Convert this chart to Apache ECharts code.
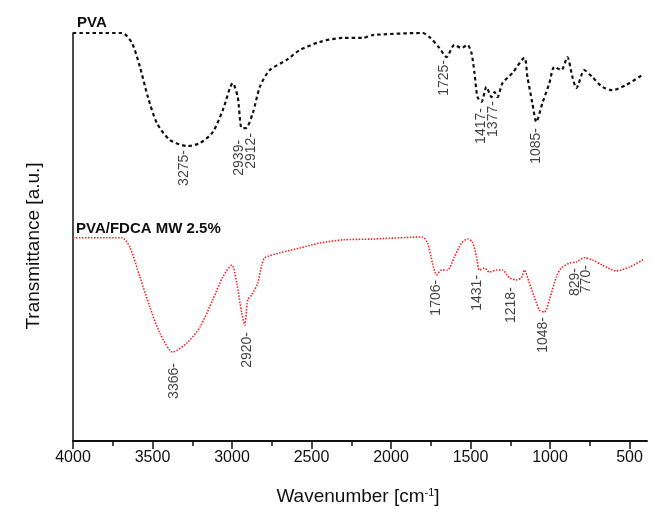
<!DOCTYPE html>
<html>
<head>
<meta charset="utf-8">
<script src="https://cdn.jsdelivr.net/npm/echarts@6/dist/echarts.min.js"></script>
<style>
html,body{margin:0;padding:0;background:#fff;}
#chart{width:654px;height:509px;}
</style>
</head>
<body>
<div id="chart"></div>
<script>
// PVA spectrum (wavenumber cm-1, transmittance a.u.)
const pvaWn = [4000,3692,3629,3579,3529,3472,3391,3278,3202,3121,3058,2995,2964,2939,2913,2869,2825,2763,2656,2574,2449,2304,2178,2115,1802,1758,1695,1651,1601,1557,1519,1494,1475,1456,1431,1400,1368,1349,1330,1299,1236,1161,1142,1111,1086,1048,1004,973,929,891,859,834,784,734,671,608,520,420];
const pvaT = [100,100,97.5,91.7,84.3,77.9,73.8,72.3,73.0,75.7,81.1,87.7,84.3,76.7,76.7,80.4,86.8,90.9,93.4,95.8,97.8,98.8,98.8,99.5,100,99.0,96.3,94.1,97.1,96.3,97.1,95.1,90.2,84.3,83.1,86.8,84.3,85.5,84.3,87.7,90.2,93.9,89.2,82.8,78.2,82.8,87.7,91.7,90.9,94.1,89.2,86.5,90.9,89.2,86.8,86.0,87.3,89.7];

// PVA/FDCA MW 2.5% spectrum
const fdcaWn = [4000,3692,3642,3579,3516,3454,3372,3284,3202,3121,3058,3001,2970,2939,2920,2901,2876,2838,2813,2794,2700,2574,2449,2304,2116,1802,1770,1739,1714,1682,1645,1601,1557,1519,1488,1462,1444,1412,1381,1337,1299,1255,1211,1180,1161,1130,1098,1067,1035,1004,960,929,878,834,784,734,671,583,501,407];
const fdcaT = [49.8,49.8,47.5,40.2,32.8,26.5,21.8,24.0,27.9,34.6,40.2,43.1,38.7,31.4,28.4,34.6,35.8,38.7,43.1,44.9,46.1,47.3,48.5,49.3,49.5,50.0,48.5,43.6,40.7,41.9,41.9,45.1,48.5,49.5,48.8,45.1,41.9,42.4,41.4,41.9,41.9,40.0,39.5,40.0,41.9,38.7,35.3,32.1,31.6,34.6,40.2,42.4,43.6,43.9,44.9,44.4,43.1,41.7,42.6,44.6];

// Peak annotations (label anchor positions)
const pvaPeakLabels = ['3275','2939','2912','1725','1417','1377','1085'];
const pvaPeakWn = [3303,2957,2882,1663,1431,1356,1086];
const pvaPeakT = [71.3,73.8,75.5,93.4,81.6,83.3,76.7];
const fdcaPeakLabels = ['3366','2920','1706','1431','1218','1048','829','770'];
const fdcaPeakWn = [3366,2907,1714,1456,1243,1042,841,772];
const fdcaPeakT = [19.1,26.7,39.5,40.7,37.7,30.4,42.4,43.1];

// Axis ticks
const xTickLabels = [4000,3500,3000,2500,2000,1500,1000,500];
const xMinorTicks = [3750,3250,2750,2250,1750,1250,750];

const seriesNames = ['PVA','PVA/FDCA MW 2.5%'];

const FONT = '"Liberation Sans", Arial, Helvetica, sans-serif';

function zip(a,b,c){ return a.map((v,i)=> c ? [v,b[i],c[i]] : [v,b[i]]); }

const chart = echarts.init(document.getElementById('chart'), null, {renderer:'canvas'});

const peakLabel = {
  show: true,
  position: 'inside',
  rotate: 90,
  align: 'right',
  verticalAlign: 'middle',
  fontFamily: FONT,
  fontSize: 14,
  color: '#111',
  formatter: p => p.value[2] + '-'
};

chart.setOption({
  animation: false,
  backgroundColor: '#fff',
  grid: {left: 73, right: 7, top: 33, bottom: 68},
  xAxis: [{
    type: 'value',
    inverse: true,
    min: 390,
    max: 4000,
    axisLine: {show: true, onZero: false, lineStyle: {color: '#111', width: 2}},
    axisTick: {show: true, customValues: xTickLabels, length: 8, lineStyle: {color: '#111', width: 1.5}},
    axisLabel: {show: true, customValues: xTickLabels, formatter: v => String(v), fontFamily: FONT, fontSize: 16, color: '#111', margin: 9},
    splitLine: {show: false}
  }, {
    type: 'value',
    inverse: true,
    min: 390,
    max: 4000,
    position: 'bottom',
    axisLine: {show: false},
    axisTick: {show: true, customValues: xMinorTicks, length: 5, lineStyle: {color: '#111', width: 1.5}},
    axisLabel: {show: false},
    splitLine: {show: false}
  }],
  yAxis: {
    type: 'value',
    min: 0,
    max: 100,
    axisLine: {show: true, lineStyle: {color: '#111', width: 1.5}},
    axisTick: {show: false},
    axisLabel: {show: false},
    splitLine: {show: false}
  },
  graphic: [
    {type: 'text', left: 77, top: 15, style: {text: seriesNames[0], font: 'bold 15px ' + FONT, fill: '#111'}},
    {type: 'text', left: 76, top: 221, style: {text: seriesNames[1], font: 'bold 15px ' + FONT, fill: '#111'}},
    {type: 'text', x: 34, y: 246, rotation: Math.PI/2, style: {text: 'Transmittance [a.u.]', font: '19px ' + FONT, fill: '#111', textAlign: 'center', textVerticalAlign: 'middle'}},
    {type: 'text', x: 358, y: 497, style: {
      text: '{n|Wavenumber [cm}{s|-1}{n|]}',
      rich: {n: {font: '19px ' + FONT, fill: '#111'}, s: {font: '11px ' + FONT, fill: '#111', verticalAlign: 'top', padding: [0,0,9,0]}},
      textAlign: 'center', textVerticalAlign: 'middle'}}
  ],
  series: [
    {
      name: seriesNames[0],
      type: 'line',
      data: zip(pvaWn, pvaT),
      showSymbol: false,
      smooth: 0.25,
      lineStyle: {color: '#111', width: 2.2, type: [3.5, 3]}
    },
    {
      name: seriesNames[1],
      type: 'line',
      data: zip(fdcaWn, fdcaT),
      showSymbol: false,
      smooth: 0.25,
      lineStyle: {color: '#ff1f1f', width: 1.6, type: [1.5, 1.5]}
    },
    {
      type: 'scatter',
      data: zip(pvaPeakWn, pvaPeakT, pvaPeakLabels),
      symbolSize: 0,
      label: peakLabel
    },
    {
      type: 'scatter',
      data: zip(fdcaPeakWn, fdcaPeakT, fdcaPeakLabels),
      symbolSize: 0,
      label: peakLabel
    }
  ]
});
</script>
</body>
</html>
